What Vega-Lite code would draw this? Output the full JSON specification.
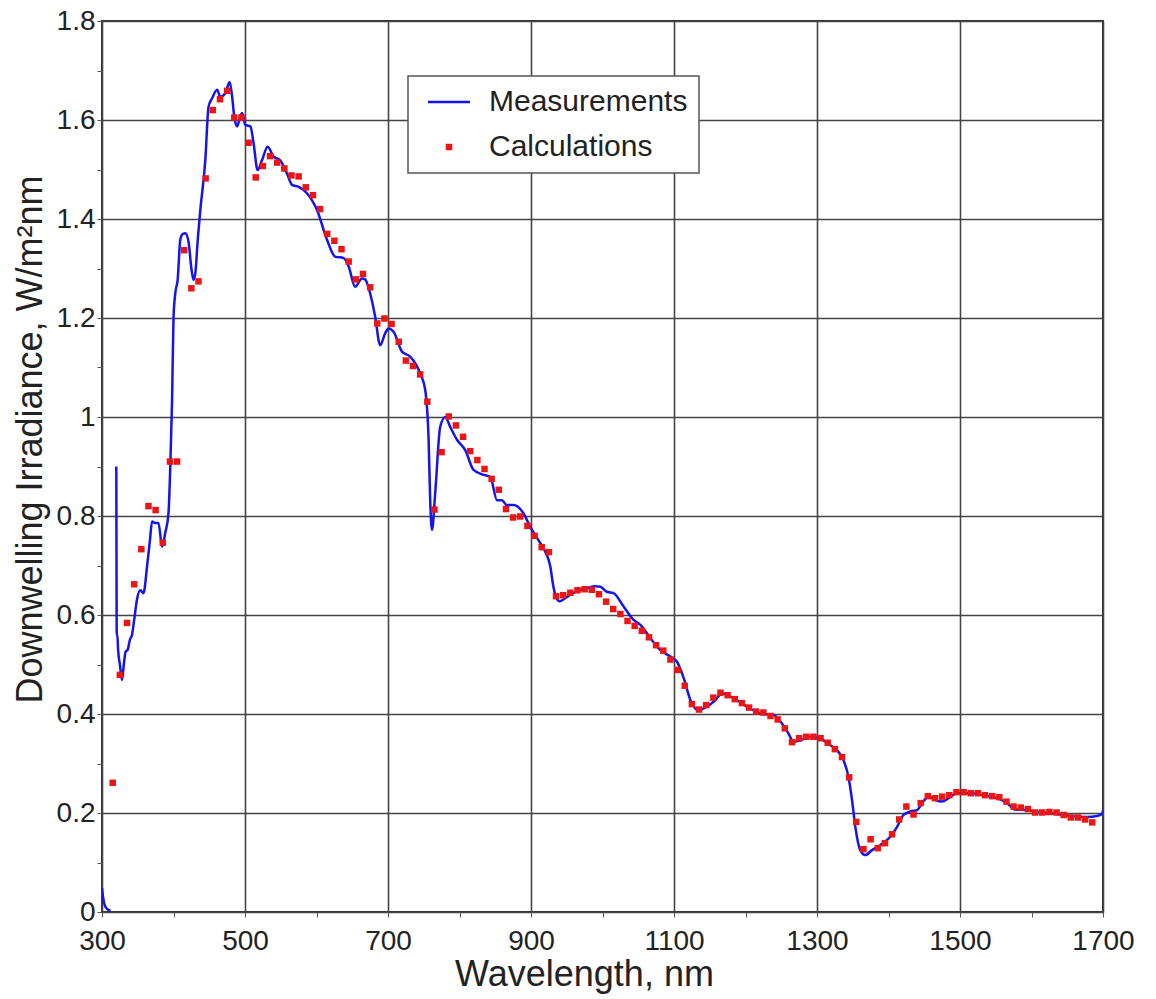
{
  "$schema": "https://vega.github.io/schema/vega-lite/v6.json",
  "width": 1001,
  "height": 891,
  "autosize": {"type": "none"},
  "padding": {"left": 102, "top": 21, "right": 53, "bottom": 87},
  "background": "white",
  "config": {
    "font": "Liberation Sans",
    "view": {"stroke": "#333333", "strokeWidth": 2},
    "axis": {
      "domain": false,
      "grid": true,
      "gridColor": "#444444",
      "gridWidth": 1.6,
      "tickColor": "#555555",
      "tickSize": 5,
      "tickWidth": 1,
      "labelColor": "#222222",
      "labelFontSize": 28,
      "labelOverlap": false,
      "labelFlush": false,
      "titleColor": "#222222",
      "titleFontWeight": "normal"
    }
  },
  "layer": [
    {
      "data": {
        "values": [
          {"nm": 300, "irr": 0.048, "seg": 1}, {"nm": 301.5, "irr": 0.03, "seg": 1}, {"nm": 303, "irr": 0.018, "seg": 1},
          {"nm": 305, "irr": 0.01, "seg": 1}, {"nm": 308, "irr": 0.005, "seg": 1}, {"nm": 312, "irr": 0.003, "seg": 1},
          {"nm": 320, "irr": 0.9, "seg": 2}, {"nm": 320.3, "irr": 0.7, "seg": 2}, {"nm": 320.6, "irr": 0.56, "seg": 2},
          {"nm": 321.5, "irr": 0.56, "seg": 2}, {"nm": 322.5, "irr": 0.53, "seg": 2}, {"nm": 325, "irr": 0.5, "seg": 2},
          {"nm": 328, "irr": 0.469, "seg": 2}, {"nm": 330.5, "irr": 0.5, "seg": 2}, {"nm": 333, "irr": 0.526, "seg": 2},
          {"nm": 336, "irr": 0.53, "seg": 2}, {"nm": 339, "irr": 0.55, "seg": 2}, {"nm": 342, "irr": 0.56, "seg": 2},
          {"nm": 345, "irr": 0.59, "seg": 2}, {"nm": 349, "irr": 0.632, "seg": 2}, {"nm": 353.6, "irr": 0.65, "seg": 2},
          {"nm": 358, "irr": 0.644, "seg": 2}, {"nm": 363, "irr": 0.698, "seg": 2}, {"nm": 367, "irr": 0.75, "seg": 2},
          {"nm": 370, "irr": 0.789, "seg": 2}, {"nm": 374.5, "irr": 0.786, "seg": 2}, {"nm": 379, "irr": 0.786, "seg": 2},
          {"nm": 384, "irr": 0.738, "seg": 2}, {"nm": 388.5, "irr": 0.766, "seg": 2}, {"nm": 393, "irr": 0.806, "seg": 2},
          {"nm": 395.5, "irr": 0.9, "seg": 2}, {"nm": 398, "irr": 1.034, "seg": 2}, {"nm": 400, "irr": 1.2, "seg": 2},
          {"nm": 402.5, "irr": 1.25, "seg": 2}, {"nm": 405.8, "irr": 1.277, "seg": 2}, {"nm": 409.5, "irr": 1.358, "seg": 2},
          {"nm": 413, "irr": 1.37, "seg": 2}, {"nm": 416.5, "irr": 1.371, "seg": 2}, {"nm": 421, "irr": 1.354, "seg": 2},
          {"nm": 425, "irr": 1.3, "seg": 2}, {"nm": 428, "irr": 1.277, "seg": 2}, {"nm": 430.5, "irr": 1.29, "seg": 2},
          {"nm": 434, "irr": 1.36, "seg": 2}, {"nm": 437.5, "irr": 1.418, "seg": 2}, {"nm": 444.5, "irr": 1.519, "seg": 2},
          {"nm": 449, "irr": 1.627, "seg": 2}, {"nm": 454, "irr": 1.644, "seg": 2}, {"nm": 461, "irr": 1.661, "seg": 2},
          {"nm": 465.5, "irr": 1.647, "seg": 2}, {"nm": 472.5, "irr": 1.654, "seg": 2}, {"nm": 478.5, "irr": 1.677, "seg": 2},
          {"nm": 482, "irr": 1.647, "seg": 2}, {"nm": 485, "irr": 1.607, "seg": 2}, {"nm": 489, "irr": 1.587, "seg": 2},
          {"nm": 492.5, "irr": 1.603, "seg": 2}, {"nm": 496, "irr": 1.614, "seg": 2}, {"nm": 500.5, "irr": 1.59, "seg": 2},
          {"nm": 507.5, "irr": 1.587, "seg": 2}, {"nm": 512, "irr": 1.553, "seg": 2}, {"nm": 517.6, "irr": 1.499, "seg": 2},
          {"nm": 523.8, "irr": 1.519, "seg": 2}, {"nm": 531.6, "irr": 1.546, "seg": 2}, {"nm": 540, "irr": 1.526, "seg": 2},
          {"nm": 549, "irr": 1.519, "seg": 2}, {"nm": 558.7, "irr": 1.492, "seg": 2}, {"nm": 565.7, "irr": 1.469, "seg": 2},
          {"nm": 575, "irr": 1.465, "seg": 2}, {"nm": 586.7, "irr": 1.452, "seg": 2}, {"nm": 600.7, "irr": 1.418, "seg": 2},
          {"nm": 614.7, "irr": 1.358, "seg": 2}, {"nm": 626, "irr": 1.324, "seg": 2}, {"nm": 638, "irr": 1.321, "seg": 2},
          {"nm": 645, "irr": 1.304, "seg": 2}, {"nm": 654, "irr": 1.263, "seg": 2}, {"nm": 663.6, "irr": 1.28, "seg": 2},
          {"nm": 668, "irr": 1.278, "seg": 2}, {"nm": 675, "irr": 1.25, "seg": 2}, {"nm": 682, "irr": 1.203, "seg": 2},
          {"nm": 689, "irr": 1.145, "seg": 2}, {"nm": 696, "irr": 1.169, "seg": 2}, {"nm": 700.8, "irr": 1.179, "seg": 2},
          {"nm": 707.8, "irr": 1.172, "seg": 2}, {"nm": 719.6, "irr": 1.132, "seg": 2}, {"nm": 731, "irr": 1.122, "seg": 2},
          {"nm": 745, "irr": 1.088, "seg": 2}, {"nm": 752, "irr": 1.055, "seg": 2}, {"nm": 756.8, "irr": 0.954, "seg": 2},
          {"nm": 759, "irr": 0.832, "seg": 2}, {"nm": 761.5, "irr": 0.772, "seg": 2}, {"nm": 766, "irr": 0.846, "seg": 2},
          {"nm": 773, "irr": 0.98, "seg": 2}, {"nm": 780, "irr": 1.0, "seg": 2}, {"nm": 787, "irr": 0.98, "seg": 2},
          {"nm": 796.5, "irr": 0.954, "seg": 2}, {"nm": 808, "irr": 0.933, "seg": 2}, {"nm": 819.7, "irr": 0.893, "seg": 2},
          {"nm": 833.7, "irr": 0.883, "seg": 2}, {"nm": 843, "irr": 0.879, "seg": 2}, {"nm": 852.5, "irr": 0.832, "seg": 2},
          {"nm": 859.4, "irr": 0.832, "seg": 2}, {"nm": 866, "irr": 0.822, "seg": 2}, {"nm": 875.7, "irr": 0.822, "seg": 2},
          {"nm": 889.6, "irr": 0.805, "seg": 2}, {"nm": 899, "irr": 0.778, "seg": 2}, {"nm": 913, "irr": 0.745, "seg": 2},
          {"nm": 920, "irr": 0.728, "seg": 2}, {"nm": 927, "irr": 0.698, "seg": 2}, {"nm": 931, "irr": 0.66, "seg": 2},
          {"nm": 935, "irr": 0.636, "seg": 2}, {"nm": 940, "irr": 0.628, "seg": 2}, {"nm": 950, "irr": 0.636, "seg": 2},
          {"nm": 960, "irr": 0.645, "seg": 2}, {"nm": 970, "irr": 0.651, "seg": 2}, {"nm": 980, "irr": 0.655, "seg": 2},
          {"nm": 990, "irr": 0.658, "seg": 2}, {"nm": 997, "irr": 0.657, "seg": 2}, {"nm": 1006, "irr": 0.647, "seg": 2},
          {"nm": 1015.5, "irr": 0.644, "seg": 2}, {"nm": 1029.5, "irr": 0.617, "seg": 2}, {"nm": 1043.5, "irr": 0.59, "seg": 2},
          {"nm": 1053, "irr": 0.58, "seg": 2}, {"nm": 1067, "irr": 0.553, "seg": 2}, {"nm": 1081, "irr": 0.529, "seg": 2},
          {"nm": 1095, "irr": 0.516, "seg": 2}, {"nm": 1104, "irr": 0.506, "seg": 2}, {"nm": 1113, "irr": 0.475, "seg": 2},
          {"nm": 1123, "irr": 0.428, "seg": 2}, {"nm": 1134, "irr": 0.408, "seg": 2}, {"nm": 1146, "irr": 0.415, "seg": 2},
          {"nm": 1158, "irr": 0.428, "seg": 2}, {"nm": 1167, "irr": 0.442, "seg": 2}, {"nm": 1183, "irr": 0.432, "seg": 2},
          {"nm": 1202, "irr": 0.415, "seg": 2}, {"nm": 1220.7, "irr": 0.401, "seg": 2}, {"nm": 1239, "irr": 0.398, "seg": 2},
          {"nm": 1251, "irr": 0.381, "seg": 2}, {"nm": 1260, "irr": 0.361, "seg": 2}, {"nm": 1267, "irr": 0.344, "seg": 2},
          {"nm": 1275, "irr": 0.346, "seg": 2}, {"nm": 1290, "irr": 0.354, "seg": 2}, {"nm": 1305, "irr": 0.35, "seg": 2},
          {"nm": 1318.6, "irr": 0.337, "seg": 2}, {"nm": 1328, "irr": 0.327, "seg": 2}, {"nm": 1337, "irr": 0.307, "seg": 2},
          {"nm": 1344, "irr": 0.273, "seg": 2}, {"nm": 1349, "irr": 0.226, "seg": 2}, {"nm": 1353.6, "irr": 0.172, "seg": 2},
          {"nm": 1360.5, "irr": 0.125, "seg": 2}, {"nm": 1367.5, "irr": 0.115, "seg": 2}, {"nm": 1377, "irr": 0.125, "seg": 2},
          {"nm": 1388.5, "irr": 0.135, "seg": 2}, {"nm": 1402.5, "irr": 0.152, "seg": 2}, {"nm": 1412, "irr": 0.172, "seg": 2},
          {"nm": 1421, "irr": 0.196, "seg": 2}, {"nm": 1430.5, "irr": 0.203, "seg": 2}, {"nm": 1440, "irr": 0.206, "seg": 2},
          {"nm": 1447, "irr": 0.22, "seg": 2}, {"nm": 1456, "irr": 0.233, "seg": 2}, {"nm": 1465.5, "irr": 0.226, "seg": 2},
          {"nm": 1475, "irr": 0.223, "seg": 2}, {"nm": 1484, "irr": 0.23, "seg": 2}, {"nm": 1496, "irr": 0.24, "seg": 2},
          {"nm": 1514, "irr": 0.24, "seg": 2}, {"nm": 1533, "irr": 0.236, "seg": 2}, {"nm": 1551.7, "irr": 0.23, "seg": 2},
          {"nm": 1565.7, "irr": 0.22, "seg": 2}, {"nm": 1577, "irr": 0.207, "seg": 2}, {"nm": 1593.7, "irr": 0.206, "seg": 2},
          {"nm": 1612, "irr": 0.201, "seg": 2}, {"nm": 1631, "irr": 0.199, "seg": 2}, {"nm": 1654, "irr": 0.194, "seg": 2},
          {"nm": 1677.6, "irr": 0.192, "seg": 2}, {"nm": 1691.6, "irr": 0.194, "seg": 2}, {"nm": 1698.6, "irr": 0.198, "seg": 2},
          {"nm": 1700, "irr": 0.205, "seg": 2}
        ]
      },
      "mark": {"type": "line", "strokeWidth": 2.5, "interpolate": "monotone", "clip": true},
      "encoding": {
        "x": {
          "field": "nm", "type": "quantitative",
          "scale": {"domain": [300, 1700], "nice": false, "zero": false},
          "axis": {
            "title": "Wavelength, nm",
            "titleFontSize": 36,
            "titleX": 482,
            "values": [300, 350, 400, 450, 500, 550, 600, 650, 700, 750, 800, 850, 900, 950, 1000, 1050, 1100, 1150, 1200, 1250, 1300, 1350, 1400, 1450, 1500, 1550, 1600, 1650, 1700],
            "labelExpr": "datum.value % 200 == 100 ? '' + datum.value : ''",
            "gridOpacity": {"condition": {"test": "datum.value % 200 == 100", "value": 1}, "value": 0},
            "labelPadding": 10,
            "titlePadding": 2
          }
        },
        "y": {
          "field": "irr", "type": "quantitative",
          "scale": {"domain": [0, 1.8], "nice": false},
          "axis": {
            "title": "Downwelling Irradiance, W/m²nm",
            "titleFontSize": 36,
            "titleY": 418,
            "values": [0, 0.05, 0.1, 0.15, 0.2, 0.25, 0.3, 0.35, 0.4, 0.45, 0.5, 0.55, 0.6, 0.65, 0.7, 0.75, 0.8, 0.85, 0.9, 0.95, 1, 1.05, 1.1, 1.15, 1.2, 1.25, 1.3, 1.35, 1.4, 1.45, 1.5, 1.55, 1.6, 1.65, 1.7, 1.75, 1.8],
            "labelExpr": "round(datum.value * 100) % 20 == 0 ? '' + round(datum.value * 10) / 10 : ''",
            "gridOpacity": {"condition": {"test": "round(datum.value * 100) % 20 == 0", "value": 1}, "value": 0},
            "labelPadding": 2,
            "titlePadding": 7
          }
        },
        "detail": {"field": "seg"},
        "color": {
          "datum": "Measurements",
          "scale": {"domain": ["Measurements", "Calculations"], "range": ["#1414ee", "#ee1414"]},
          "legend": {
            "title": null,
            "orient": "none",
            "legendX": 306,
            "legendY": 55,
            "padding": 11,
            "fillColor": "white",
            "strokeColor": "#555555",
            "labelFontSize": 30,
            "labelColor": "#222222",
            "labelFont": "Liberation Sans",
            "labelLimit": 400,
            "symbolSize": 900,
            "symbolOffset": 15,
            "labelOffset": 25,
            "rowPadding": 15,
            "cornerRadius": 0,
            "encode": {
              "legend": {"update": {"strokeWidth": {"value": 1.5}}},
              "symbols": {
                "update": {
                  "shape": {"signal": "datum.value === 'Measurements' ? 'stroke' : 'square'"},
                  "size": {"signal": "datum.value === 'Measurements' ? 1764 : 42"},
                  "stroke": {"scale": "color", "field": "value"},
                  "fill": {"scale": "color", "field": "value"},
                  "strokeWidth": {"signal": "datum.value === 'Measurements' ? 2.5 : 0"}
                }
              }
            }
          }
        }
      }
    },
    {
      "data": {
        "values": [
          {"nm": 315, "irr": 0.261}, {"nm": 325, "irr": 0.479}, {"nm": 335, "irr": 0.584}, {"nm": 345, "irr": 0.662},
          {"nm": 355, "irr": 0.733}, {"nm": 365, "irr": 0.82}, {"nm": 375, "irr": 0.812}, {"nm": 385, "irr": 0.746},
          {"nm": 395, "irr": 0.91}, {"nm": 405, "irr": 0.91}, {"nm": 415, "irr": 1.337}, {"nm": 425, "irr": 1.26},
          {"nm": 435, "irr": 1.274}, {"nm": 445, "irr": 1.482}, {"nm": 455, "irr": 1.62}, {"nm": 465, "irr": 1.642},
          {"nm": 475, "irr": 1.659}, {"nm": 485, "irr": 1.605}, {"nm": 495, "irr": 1.605}, {"nm": 505, "irr": 1.554},
          {"nm": 515, "irr": 1.484}, {"nm": 525, "irr": 1.507}, {"nm": 535, "irr": 1.527}, {"nm": 545, "irr": 1.514},
          {"nm": 555, "irr": 1.502}, {"nm": 565, "irr": 1.488}, {"nm": 575, "irr": 1.486}, {"nm": 585, "irr": 1.464},
          {"nm": 595, "irr": 1.448}, {"nm": 605, "irr": 1.42}, {"nm": 615, "irr": 1.37}, {"nm": 625, "irr": 1.356},
          {"nm": 635, "irr": 1.339}, {"nm": 645, "irr": 1.314}, {"nm": 655, "irr": 1.278}, {"nm": 665, "irr": 1.289},
          {"nm": 675, "irr": 1.262}, {"nm": 685, "irr": 1.189}, {"nm": 695, "irr": 1.199}, {"nm": 705, "irr": 1.188},
          {"nm": 715, "irr": 1.152}, {"nm": 725, "irr": 1.114}, {"nm": 735, "irr": 1.103}, {"nm": 745, "irr": 1.086},
          {"nm": 755, "irr": 1.031}, {"nm": 765, "irr": 0.813}, {"nm": 775, "irr": 0.929}, {"nm": 785, "irr": 1.001},
          {"nm": 795, "irr": 0.983}, {"nm": 805, "irr": 0.96}, {"nm": 815, "irr": 0.931}, {"nm": 825, "irr": 0.913},
          {"nm": 835, "irr": 0.895}, {"nm": 845, "irr": 0.875}, {"nm": 855, "irr": 0.853}, {"nm": 865, "irr": 0.814},
          {"nm": 875, "irr": 0.797}, {"nm": 885, "irr": 0.799}, {"nm": 895, "irr": 0.78}, {"nm": 905, "irr": 0.76},
          {"nm": 915, "irr": 0.737}, {"nm": 925, "irr": 0.727}, {"nm": 935, "irr": 0.638}, {"nm": 945, "irr": 0.64},
          {"nm": 955, "irr": 0.645}, {"nm": 965, "irr": 0.65}, {"nm": 975, "irr": 0.652}, {"nm": 985, "irr": 0.651},
          {"nm": 995, "irr": 0.642}, {"nm": 1005, "irr": 0.627}, {"nm": 1015, "irr": 0.612}, {"nm": 1025, "irr": 0.602},
          {"nm": 1035, "irr": 0.588}, {"nm": 1045, "irr": 0.578}, {"nm": 1055, "irr": 0.568}, {"nm": 1065, "irr": 0.555},
          {"nm": 1075, "irr": 0.539}, {"nm": 1085, "irr": 0.528}, {"nm": 1095, "irr": 0.51}, {"nm": 1105, "irr": 0.489},
          {"nm": 1115, "irr": 0.457}, {"nm": 1125, "irr": 0.42}, {"nm": 1135, "irr": 0.409}, {"nm": 1145, "irr": 0.418},
          {"nm": 1155, "irr": 0.433}, {"nm": 1165, "irr": 0.443}, {"nm": 1175, "irr": 0.438}, {"nm": 1185, "irr": 0.43},
          {"nm": 1195, "irr": 0.422}, {"nm": 1205, "irr": 0.413}, {"nm": 1215, "irr": 0.405}, {"nm": 1225, "irr": 0.403},
          {"nm": 1235, "irr": 0.396}, {"nm": 1245, "irr": 0.389}, {"nm": 1255, "irr": 0.371}, {"nm": 1265, "irr": 0.343},
          {"nm": 1275, "irr": 0.351}, {"nm": 1285, "irr": 0.354}, {"nm": 1295, "irr": 0.354}, {"nm": 1305, "irr": 0.351},
          {"nm": 1315, "irr": 0.342}, {"nm": 1325, "irr": 0.329}, {"nm": 1335, "irr": 0.313}, {"nm": 1345, "irr": 0.272},
          {"nm": 1355, "irr": 0.182}, {"nm": 1365, "irr": 0.127}, {"nm": 1375, "irr": 0.147}, {"nm": 1385, "irr": 0.129},
          {"nm": 1395, "irr": 0.139}, {"nm": 1405, "irr": 0.157}, {"nm": 1415, "irr": 0.187}, {"nm": 1425, "irr": 0.213},
          {"nm": 1435, "irr": 0.197}, {"nm": 1445, "irr": 0.22}, {"nm": 1455, "irr": 0.234}, {"nm": 1465, "irr": 0.23},
          {"nm": 1475, "irr": 0.233}, {"nm": 1485, "irr": 0.236}, {"nm": 1495, "irr": 0.242}, {"nm": 1505, "irr": 0.242},
          {"nm": 1515, "irr": 0.24}, {"nm": 1525, "irr": 0.24}, {"nm": 1535, "irr": 0.236}, {"nm": 1545, "irr": 0.234},
          {"nm": 1555, "irr": 0.232}, {"nm": 1565, "irr": 0.223}, {"nm": 1575, "irr": 0.213}, {"nm": 1585, "irr": 0.211},
          {"nm": 1595, "irr": 0.208}, {"nm": 1605, "irr": 0.201}, {"nm": 1615, "irr": 0.201}, {"nm": 1625, "irr": 0.202},
          {"nm": 1635, "irr": 0.201}, {"nm": 1645, "irr": 0.196}, {"nm": 1655, "irr": 0.191}, {"nm": 1665, "irr": 0.191},
          {"nm": 1675, "irr": 0.187}, {"nm": 1685, "irr": 0.181}
        ]
      },
      "mark": {"type": "square", "size": 42, "opacity": 1},
      "encoding": {
        "x": {"field": "nm", "type": "quantitative"},
        "y": {"field": "irr", "type": "quantitative"},
        "color": {"datum": "Calculations"}
      }
    }
  ]
}
